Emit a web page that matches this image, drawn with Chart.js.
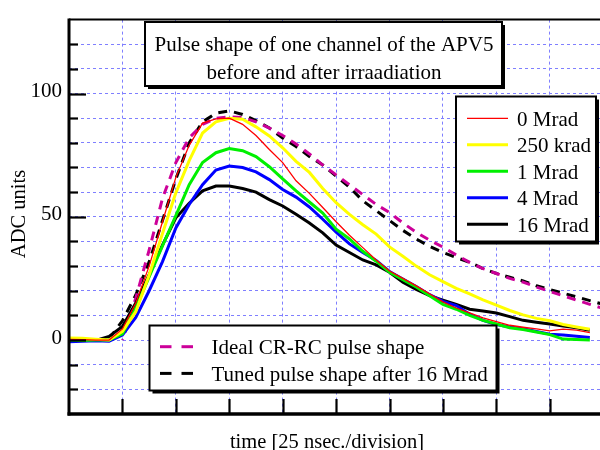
<!DOCTYPE html>
<html><head><meta charset="utf-8">
<script src="https://cdn.jsdelivr.net/npm/chart.js@4.4.1/dist/chart.umd.min.js"></script>
<style>html,body{margin:0;padding:0;background:#fff;}#wrap{width:600px;height:450px;}</style>
</head><body><div id="wrap"><canvas id="c" width="600" height="450"></canvas></div>
<script>
// time in divisions (1 division = 25 ns)
const timeDiv = [0,0.25,0.5,0.75,1,1.25,1.5,1.75,2,2.25,2.5,2.75,3,3.25,3.5,3.75,4,4.25,4.5,4.75,5,5.25,5.5,5.75,6,6.25,6.5,6.75,7,7.25,7.5,7.75,8,8.25,8.5,8.75,9,9.25,9.5,9.75,10];
const mrad0   = [0.3,0.2,0,0,4.5,15,30,48,66,79,88,89.7,90,87.5,83,77.3,72,64.6,59.5,53.8,48,42.5,37.5,32.5,28,25,22,18.8,15.5,13,11,9,7.5,6,5.2,4.5,3.7,4.4,4,3];
const krad250 = [0.8,0.7,0.3,0,3.5,11.5,26.4,43.2,59.7,72.8,84,88.5,90,89.6,86.5,82.8,78,72.5,68,61.5,55.7,51,46.8,43,37.8,34,30,26.5,23.7,21,18.7,16.3,14.2,12,10.2,8.8,7.8,6.3,5.3,4.4];
const mrad1   = [0,-0.2,0,0,2.5,13,25.6,38.2,50.5,63,72,76,77.7,76.8,74.4,70.3,65.4,60.5,56,51.5,45,41,36,32,27.5,24.5,21.5,18,14.5,12.5,10,8,6.5,5,4.3,3.3,2.2,0.4,0.2,0];
const mrad4   = [-0.7,-0.5,-0.3,-0.5,2,9.2,20,31.8,45.5,55,63,69,70.6,70,68.2,65.1,61.1,58,54,49,43.8,39,35.5,32.3,27.8,24.7,21.7,18.4,15.7,14,10.5,8,6.3,5.3,4.6,3.5,2.4,2,1.5,1];
const mrad16  = [0.5,0.3,-0.2,1.5,5.5,15,26.5,38.5,49.6,55.5,60.5,62.5,62.5,61.5,60,57,54.4,51,47.5,43.5,38.5,35.5,32.5,30.5,27.5,23.5,20.5,18,16.2,14.5,12.5,11.8,11,9.5,8,7.2,6.5,5.7,5,4];
const idealCRRC = [null,null,null,null,0,17,36.5,57.5,72,82,87.5,90,90.6,90.3,88.5,86,83,79.5,75.5,71,67,63,59,55,51.7,47.5,43.7,40.5,37.7,34.5,31.5,29,27,25,23.5,21.5,19.7,18,16.2,14.5,12.8];
const tuned16   = [null,null,null,0.5,7.8,18.3,31.7,48.5,65.3,80,88.5,92,93,91.5,89,86,82,78.5,74.5,71,66.5,62,56.5,52.5,48.5,44.5,41,38,35.5,33.5,31.5,29,27,25.5,24,22,20.5,19,17.5,16,14.5];

const seriesLabels = ['0 Mrad','250 krad','1 Mrad','4 Mrad','16 Mrad'];
const dashedLabels = ['Ideal CR-RC pulse shape','Tuned pulse shape after 16 Mrad'];
const titleLines = ['Pulse shape of one channel of the APV5','before and after irraadiation'];
const yTickLabels = [0,50,100];
const xTitle = 'time [25 nsec./division]';
const yTitle = 'ADC units';

const F = '"Liberation Serif","Times New Roman",serif';
const pts = vals => vals.map((v,i)=> v==null?null:{x:timeDiv[i],y:v}).filter(p=>p);

const solid = [
  {label:seriesLabels[0], data:pts(mrad0),   borderColor:'#ff0000', borderWidth:1.3},
  {label:seriesLabels[1], data:pts(krad250), borderColor:'#ffff00', borderWidth:3},
  {label:seriesLabels[2], data:pts(mrad1),   borderColor:'#00f000', borderWidth:3},
  {label:seriesLabels[3], data:pts(mrad4),   borderColor:'#0000ff', borderWidth:3},
  {label:seriesLabels[4], data:pts(mrad16),  borderColor:'#000000', borderWidth:3},
];
const dashed = [
  {label:dashedLabels[0], data:pts(idealCRRC), borderColor:'#cc0099', borderWidth:3, borderDash:[9,7], borderDashOffset:8},
  {label:dashedLabels[1], data:pts(tuned16),   borderColor:'#000000', borderWidth:3, borderDash:[9,7], borderDashOffset:0},
];
const datasets = solid.concat(dashed).map(d=>Object.assign({pointRadius:0, tension:0, fill:false}, d));

const deco = {
  id:'deco',
  afterDraw(chart){
    const {ctx, chartArea:a, scales:{x,y}} = chart;
    const line=(x0,y0,x1,y1)=>{ctx.beginPath();ctx.moveTo(x0,y0);ctx.lineTo(x1,y1);ctx.stroke();};
    ctx.save();
    ctx.strokeStyle='#000'; ctx.fillStyle='#000';
    ctx.setLineDash([]);
    // frame
    ctx.lineWidth=2; line(a.left, a.top, a.right, a.top);
    ctx.lineWidth=3; line(a.left, a.top-1, a.left, a.bottom+1.5);
    ctx.lineWidth=3.5; line(a.left-1.5, a.bottom, a.right, a.bottom);
    // y ticks (inside)
    ctx.lineWidth=2.2;
    for(let v=-20; v<=120; v+=10){
      const py=Math.round(y.getPixelForValue(v))+0.5;
      line(a.left, py, a.left+(yTickLabels.includes(v)?17:9), py);
    }
    // x ticks (inside)
    for(let t=1;t<=9;t++){
      const px=Math.round(x.getPixelForValue(t))+0.5;
      line(px, a.bottom, px, a.bottom-15);
    }
    // boxes
    const box=(x0,y0,x1,y1)=>{
      ctx.fillStyle='#000'; ctx.fillRect(x0+3,y0+3,x1-x0,y1-y0);
      ctx.fillStyle='#fff'; ctx.fillRect(x0,y0,x1-x0,y1-y0);
      ctx.lineWidth=2; ctx.strokeStyle='#000'; ctx.strokeRect(x0,y0,x1-x0,y1-y0);
    };
    ctx.font='21px '+F; ctx.textBaseline='alphabetic';
    // title box
    box(145,22,502,86);
    ctx.fillStyle='#000'; ctx.textAlign='center';
    ctx.fillText(titleLines[0], 324, 51);
    ctx.fillText(titleLines[1], 324, 78.5);
    // legend 1
    box(456,96.5,596,241.5);
    ctx.textAlign='left';
    for(let i=0;i<solid.length;i++){
      const ly=118.3+i*26.5;
      ctx.strokeStyle=solid[i].borderColor; ctx.lineWidth=solid[i].borderWidth;
      line(467, ly, 508, ly);
      ctx.fillStyle='#000'; ctx.fillText(solid[i].label, 517, ly+7.5);
    }
    // legend 2
    box(149.5,325.5,496.5,390.5);
    for(let i=0;i<dashed.length;i++){
      const ly=346.7+i*26.7;
      ctx.strokeStyle=dashed[i].borderColor; ctx.lineWidth=3;
      line(160, ly, 171.5, ly); line(181.5, ly, 193, ly);
      ctx.fillStyle='#000'; ctx.fillText(dashed[i].label, 211.5, ly+7.5);
    }
    // axis titles
    ctx.font='20.5px '+F; ctx.fillStyle='#000'; ctx.textAlign='center';
    ctx.fillText(xTitle, 327, 448);
    ctx.translate(25, 214); ctx.rotate(-Math.PI/2);
    ctx.fillText(yTitle, 0, 0);
    ctx.restore();
  }
};

new Chart(document.getElementById('c'), {
  type:'line',
  data:{datasets},
  plugins:[deco],
  options:{
    responsive:false, animation:false, devicePixelRatio:1,
    layout:{padding:{top:14,left:0,right:0,bottom:0}},
    plugins:{legend:{display:false}, tooltip:{enabled:false}},
    scales:{
      x:{type:'linear', min:0, max:9.94,
         ticks:{stepSize:1, display:false, includeBounds:false, autoSkip:false},
         grid:{color:'#7f7fff', lineWidth:1, drawTicks:false},
         border:{display:false, dash:[3,3]},
         afterFit:s=>{s.height=36;}},
      y:{type:'linear', min:-30, max:130,
         ticks:{stepSize:10, padding:7, labelOffset:-2, color:'#000', autoSkip:false, font:{family:F,size:21},
                callback:v=> yTickLabels.includes(v)? String(v):''},
         grid:{color:'#7f7fff', lineWidth:1, drawTicks:false},
         border:{display:false, dash:[3,3]},
         afterFit:s=>{s.width=69;}}
    }
  }
});
</script></body></html>
